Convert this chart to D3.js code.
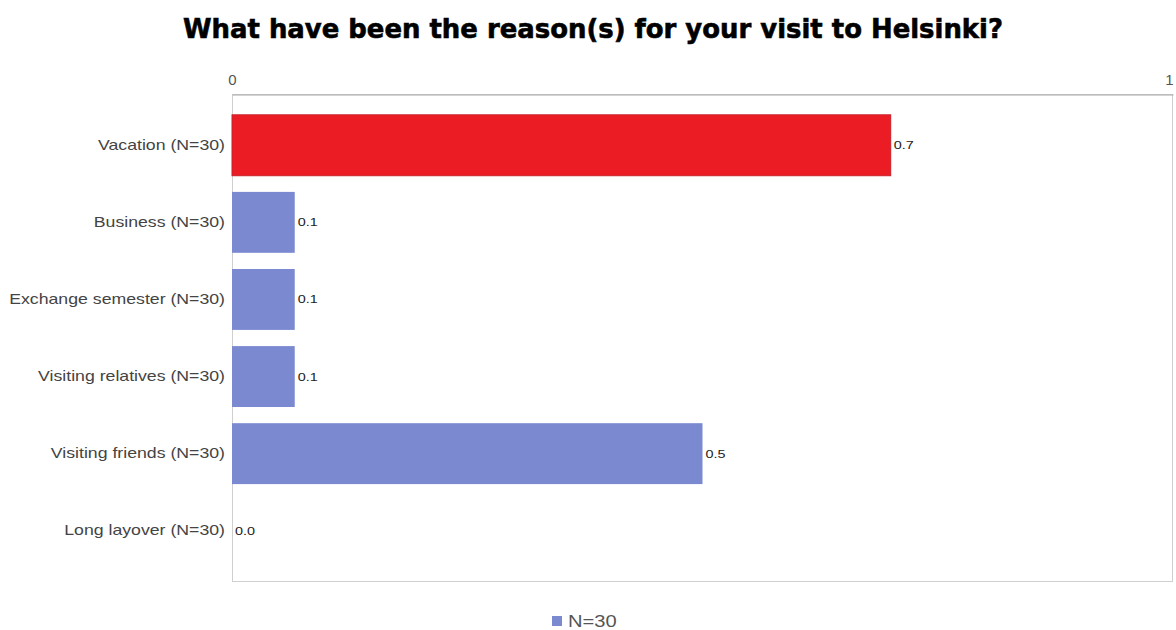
<!DOCTYPE html>
<html>
<head>
<meta charset="utf-8">
<script src="https://cdn.jsdelivr.net/npm/d3@7"></script>
<style>
  html, body { margin: 0; padding: 0; background: #fff; }
  svg { display: block; }
</style>
</head>
<body>
<svg id="chart" width="1176" height="630"></svg>
<script>
// Survey answers: share of respondents per reason
const categories = [
  "Vacation (N=30)",
  "Business (N=30)",
  "Exchange semester (N=30)",
  "Visiting relatives (N=30)",
  "Visiting friends (N=30)",
  "Long layover (N=30)"
];
const values = [21 / 30, 2 / 30, 2 / 30, 2 / 30, 15 / 30, 0];
const highlight = ["Vacation (N=30)"];
const xTicks = [0, 1];
const seriesName = "N=30";

const svg = d3.select("#chart");
const W = 1176, H = 630;
const plot = { left: 232, top: 94, right: 1173, bottom: 582 };
const FONT = "'Liberation Sans', Arial, sans-serif";
const WIDEN = 1.22;

// Stretch text horizontally by a fixed factor
function widen(sel, k = WIDEN) {
  sel.each(function () {
    const len = this.getComputedTextLength();
    d3.select(this).attr("textLength", len * k).attr("lengthAdjust", "spacingAndGlyphs");
  });
}

svg.append("rect").attr("width", W).attr("height", H).attr("fill", "#fff");

// Title
svg.append("text")
  .attr("x", 593).attr("y", 38)
  .attr("text-anchor", "middle")
  .attr("font-family", "'DejaVu Sans', sans-serif")
  .attr("font-weight", "bold")
  .attr("font-size", 27)
  .attr("textLength", 820)
  .attr("lengthAdjust", "spacingAndGlyphs")
  .attr("fill", "#000")
  .attr("stroke", "#000").attr("stroke-width", 0.6)
  .text("What have been the reason(s) for your visit to Helsinki?");

const x = d3.scaleLinear().domain([0, 1]).range([plot.left, plot.right]);
const y = d3.scaleBand().domain(categories)
  .range([plot.top, plot.bottom])
  .paddingInner(0.21).paddingOuter(0.27);

// Plot frame
svg.append("rect")
  .attr("x", plot.left + 0.5).attr("y", plot.top + 0.5)
  .attr("width", plot.right - plot.left - 1)
  .attr("height", plot.bottom - plot.top - 1)
  .attr("fill", "none").attr("stroke", "#cfcfcf").attr("stroke-width", 1);

// Top axis
const xAxis = d3.axisTop(x).tickValues(xTicks).tickFormat(d3.format("d")).tickSize(0).tickPadding(10);
const gx = svg.append("g").attr("transform", `translate(0,${plot.top + 0.5})`).call(xAxis);
gx.select(".domain").attr("stroke", "#a8a8a8");
gx.selectAll("text")
  .attr("font-family", FONT)
  .attr("font-size", 15).attr("fill", "#555")
  .attr("text-anchor", (d, i) => i === xTicks.length - 1 ? "end" : "middle");

// Left axis labels
const yAxis = d3.axisLeft(y).tickSize(0).tickPadding(7);
const gy = svg.append("g").attr("transform", `translate(${plot.left},0)`).call(yAxis);
gy.select(".domain").remove();
gy.selectAll("text")
  .attr("font-family", FONT)
  .attr("font-size", 14.5).attr("fill", "#444");
gy.selectAll("text").call(widen);

// Bars
const data = categories.map((c, i) => ({ c, v: values[i] }));
svg.append("g").selectAll("rect").data(data).join("rect")
  .attr("x", x(0))
  .attr("y", d => y(d.c))
  .attr("width", d => x(d.v) - x(0))
  .attr("height", y.bandwidth())
  .attr("fill", d => highlight.includes(d.c) ? "#ec1c24" : "#7b8ad0")
  .attr("stroke", d => highlight.includes(d.c) ? "#c8202a" : "none")
  .attr("stroke-width", 1);

// Value labels
svg.append("g").selectAll("text").data(data).join("text")
  .attr("x", d => x(d.v) + 3)
  .attr("y", d => y(d.c) + y.bandwidth() / 2 + 4)
  .attr("font-family", FONT)
  .attr("font-size", 11.5).attr("fill", "#222")
  .text(d => d.v.toFixed(1))
  .call(widen, 1.25);

// Legend
const lg = svg.append("g").attr("transform", "translate(552,616)");
lg.append("rect").attr("x", 0).attr("y", 0).attr("width", 10).attr("height", 10).attr("fill", "#7b8ad0");
lg.append("text").attr("x", 16).attr("y", 11)
  .attr("font-family", FONT)
  .attr("font-size", 16.5).attr("fill", "#555")
  .text(seriesName)
  .call(widen);
</script>
</body>
</html>
